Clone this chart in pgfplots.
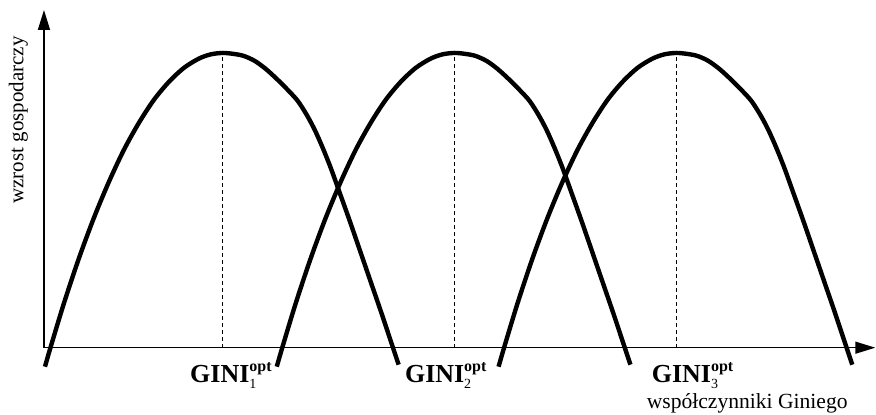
\documentclass[border=0pt]{standalone}
\usepackage{fontspec}
\setmainfont{Liberation Serif}
\usepackage{pgfplots}
\pgfplotsset{compat=1.18}
\usetikzlibrary{arrows.meta}
\newcommand{\gini}[1]{{\fontsize{13}{13}\selectfont\bfseries GINI}\makebox[0pt][l]{\raisebox{-3pt}{\fontsize{7}{7}\selectfont #1}}\raisebox{5.5pt}{\fontsize{8}{8}\selectfont\bfseries opt}}
\begin{document}
\begin{tikzpicture}
\begin{axis}[
  x=0.5pt, y=0.5pt,
  xmin=0, xmax=832, ymin=0, ymax=338,
  axis lines=middle,
  axis line style={line width=0.75pt, -{Triangle[length=10pt,width=6pt]}},
  xtick=\empty, ytick=\empty,
  clip=false,
]
\path (axis cs:-44,-67) rectangle (axis cs:832,348);
% dashed verticals at optima
\addplot[black, line width=0.5pt, dash pattern=on 2pt off 1.5pt] coordinates {(179,0) (179,295)};
\addplot[black, line width=0.5pt, dash pattern=on 2pt off 1.5pt] coordinates {(411,0) (411,295)};
\addplot[black, line width=0.5pt, dash pattern=on 2pt off 1.5pt] coordinates {(633,0) (633,295)};
% curve 1
\addplot[black, line width=2.2pt, smooth] coordinates {
(1,-19) (6.5,0) (20,44.5) (35,89.5) (50,130) (65,166) (80,198) (95,225) (110,248) (125,266) (140,280) (155,289.3) (167,293.6) (179,295)
(190,294) (200,292) (211,287) (222,279) (233,269) (244,258) (254,247) (263,233) (271,218) (279,200) (287,180) (296,155) (306,127) (316,98) (327,66) (338,34) (349.3,0) (355,-17)};
% curve 2
\addplot[black, line width=2.2pt, smooth] coordinates {
(233,-19) (238.5,0) (252,44.5) (267,89.5) (282,130) (297,166) (312,198) (327,225) (342,248) (357,266) (372,280) (387,289.3) (399,293.6) (411,295)
(422,294) (432,292) (443,287) (454,279) (465,269) (476,258) (486,247) (495,233) (503,218) (511,200) (519,180) (528,155) (538,127) (548,98) (559,66) (570,34) (581.3,0) (587,-17)};
% curve 3
\addplot[black, line width=2.2pt, smooth] coordinates {
(455,-19) (460.5,0) (474,44.5) (489,89.5) (504,130) (519,166) (534,198) (549,225) (564,248) (579,266) (594,280) (609,289.3) (621,293.6) (633,295)
(644,294) (654,292) (665,287) (676,279) (687,269) (698,258) (708,247) (717,233) (725,218) (733,200) (741,180) (750,155) (760,127) (770,98) (781,66) (792,34) (803.3,0) (809,-17)};
\node[anchor=base west, inner sep=0pt] at (axis cs:146,-35) {\gini{1}};
\node[anchor=base west, inner sep=0pt] at (axis cs:361,-35) {\gini{2}};
\node[anchor=base west, inner sep=0pt] at (axis cs:608,-35) {\gini{3}};
\node[anchor=base west, inner sep=0pt, font=\fontsize{10.8}{13}\selectfont] at (axis cs:603,-61) {współczynniki Giniego};
\node[anchor=base, rotate=90, inner sep=0pt, font=\fontsize{10.5}{12}\selectfont] at (axis cs:-20.5,228) {wzrost gospodarczy};
\end{axis}
\end{tikzpicture}
\end{document}
